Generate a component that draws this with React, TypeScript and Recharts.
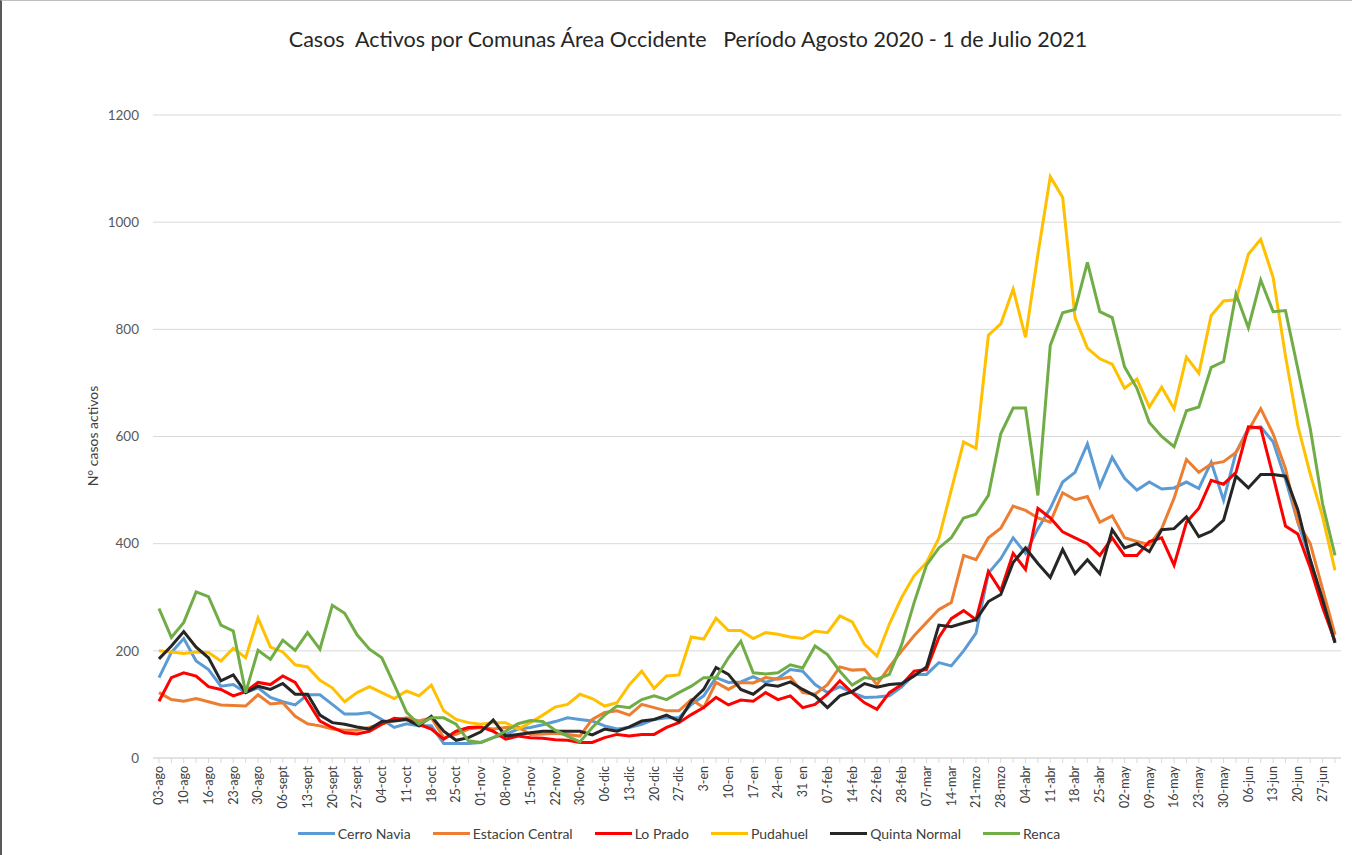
import { CartesianGrid, Line, LineChart, XAxis, YAxis } from 'recharts'

const dateLabels = [
  '03-ago', '10-ago', '16-ago', '23-ago', '30-ago', '06-sept', '13-sept', '20-sept', '27-sept', '04-oct',
  '11-oct', '18-oct', '25-oct', '01-nov', '08-nov', '15-nov', '22-nov', '30-nov', '06-dic', '13-dic',
  '20-dic', '27-dic', '3-en', '10-en', '17-en', '24-en', '31 en', '07-feb', '14-feb', '22-feb',
  '28-feb', '07-mar', '14-mar', '21-mzo', '28-mzo', '04-abr', '11-abr', '18-abr', '25-abr', '02-may',
  '09-may', '16-may', '23-may', '30-may', '06-jun', '13-jun', '20-jun', '27-jun',
]

const cerroNavia = [
  150, 197, 223, 181, 165, 134, 137, 122, 131, 113, 105, 99, 118, 118, 100, 82, 82,
  85, 72, 57, 64, 60, 60, 27, 27, 27, 29, 38, 44, 54, 57, 62, 68,
  75, 72, 69, 60, 54, 57, 63, 72, 75, 75, 100, 116, 150, 141, 142, 152,
  141, 149, 165, 162, 137, 122, 133, 122, 113, 114, 116, 133, 156, 156, 178,
  172, 200, 233, 345, 372, 411, 382, 428, 466, 515, 533, 586, 507, 561, 522, 500,
  515, 502, 504, 515, 503, 552, 481, 570, 615, 618, 590, 520, 440, 370, 290, 215,
]

const estacionCentral = [
  122, 109, 106, 111, 105, 99, 98, 97, 118, 101, 103, 78, 64, 60, 54, 52, 52,
  57, 64, 70, 75, 69, 75, 38, 44, 54, 57, 54, 57, 58, 44, 45, 46,
  44, 41, 72, 85, 88, 80, 100, 94, 88, 88, 109, 94, 141, 128, 141, 140,
  150, 147, 151, 122, 119, 137, 170, 164, 165, 137, 170, 200, 228, 253, 277,
  290, 378, 370, 411, 429, 470, 462, 448, 440, 495, 482, 488, 440, 452, 411, 404,
  398, 428, 485, 557, 533, 549, 553, 570, 611, 652, 605, 540, 440, 400, 315, 230,
]

const loPrado = [
  106, 150, 159, 153, 133, 128, 116, 124, 141, 137, 153, 141, 106, 69, 57, 47, 45,
  50, 63, 74, 72, 63, 54, 35, 50, 57, 58, 50, 35, 41, 38, 37, 34,
  33, 29, 29, 38, 44, 41, 44, 44, 57, 66, 81, 94, 113, 99, 108, 106,
  122, 109, 116, 94, 100, 119, 144, 122, 103, 91, 122, 137, 162, 165, 225,
  260, 275, 258, 348, 312, 382, 352, 466, 448, 422, 411, 400, 378, 411, 378, 378,
  404, 411, 360, 440, 466, 518, 511, 533, 618, 616, 526, 433, 418, 355, 281, 218,
]

const pudahuel = [
  200, 198, 195, 198, 197, 181, 205, 187, 261, 207, 198, 174, 170, 145, 131, 105, 122,
  133, 122, 111, 125, 116, 136, 88, 72, 66, 63, 66, 66, 54, 66, 80, 95,
  100, 119, 111, 97, 103, 137, 162, 130, 153, 155, 226, 222, 261, 238, 238, 223,
  234, 231, 226, 223, 237, 234, 265, 254, 212, 190, 250, 300, 340, 365, 410,
  500, 590, 578, 789, 810, 875, 785, 940, 1085, 1046, 822, 765, 745, 735, 690, 707,
  655, 692, 652, 748, 718, 826, 853, 855, 940, 968, 897, 750, 620, 530, 450, 350,
]

const quintaNormal = [
  185, 209, 236, 207, 187, 144, 155, 122, 134, 128, 139, 119, 119, 80, 66, 63, 58,
  54, 68, 69, 72, 60, 78, 50, 33, 38, 49, 71, 41, 44, 47, 50, 50,
  50, 50, 43, 54, 50, 58, 69, 72, 80, 69, 106, 128, 169, 156, 128, 119,
  137, 134, 142, 128, 116, 94, 116, 124, 139, 132, 137, 139, 153, 170, 248,
  245, 252, 258, 292, 305, 365, 392, 363, 337, 389, 344, 370, 344, 426, 392, 400,
  385, 426, 428, 450, 413, 423, 444, 526, 504, 529, 529, 526, 463, 370, 296, 215,
]

const renca = [
  279, 225, 253, 310, 301, 248, 237, 122, 201, 184, 220, 201, 234, 203, 285, 270, 230,
  203, 187, 137, 85, 63, 75, 75, 63, 32, 29, 38, 50, 64, 70, 68, 52,
  41, 30, 57, 80, 97, 94, 109, 116, 109, 122, 134, 150, 150, 187, 218, 159,
  157, 159, 174, 168, 209, 193, 162, 136, 150, 147, 156, 212, 290, 360, 392,
  411, 448, 455, 490, 605, 653, 653, 490, 770, 831, 837, 925, 833, 822, 730, 690,
  626, 600, 581, 648, 655, 729, 740, 866, 803, 892, 833, 835, 726, 615, 474, 378,
]

const yTicks = [0, 200, 400, 600, 800, 1000, 1200]

const series = [
  { key: 'cerroNavia', name: 'Cerro Navia', color: '#5b9bd5', values: cerroNavia },
  { key: 'estacionCentral', name: 'Estacion Central', color: '#ed7d31', values: estacionCentral },
  { key: 'loPrado', name: 'Lo Prado', color: '#ff0000', values: loPrado },
  { key: 'pudahuel', name: 'Pudahuel', color: '#ffc000', values: pudahuel },
  { key: 'quintaNormal', name: 'Quinta Normal', color: '#262626', values: quintaNormal },
  { key: 'renca', name: 'Renca', color: '#70ad47', values: renca },
]

const rows = cerroNavia.map((_, i) => {
  const row: Record<string, number> = { idx: i }
  series.forEach((s) => {
    row[s.key] = s.values[i]
  })
  return row
})

const FONT = 'Lato, "Open Sans", sans-serif'

function DateTick(props: any) {
  const { x, y, payload } = props
  const i = Number(payload.value)
  if (i % 2 !== 0) return <g />
  return (
    <text
      x={x}
      y={y}
      dy="0.35em"
      textAnchor="end"
      transform={`rotate(-90, ${x}, ${y})`}
      fontSize={12.5}
      fontFamily={FONT}
      fill="#404040"
    >
      {dateLabels[i / 2]}
    </text>
  )
}

export default function App() {
  return (
    <div
      style={{
        position: 'absolute',
        left: 0,
        top: 0,
        width: 1352,
        height: 855,
        background: '#fff',
        fontFamily: FONT,
        boxSizing: 'border-box',
        borderLeft: '2px solid #595959',
        borderTop: '1px solid #bfbfbf',
      }}
    >
      <div
        style={{
          position: 'absolute',
          top: 25,
          left: 0,
          width: 1352,
          textAlign: 'center',
          whiteSpace: 'pre',
          fontSize: 21.5,
          color: '#262626',
          marginLeft: 10,
        }}
      >
        {'Casos  Activos por Comunas Área Occidente   Período Agosto 2020 - 1 de Julio 2021'}
      </div>
      <div
        style={{
          position: 'absolute',
          left: 90,
          top: 435,
          transform: 'translate(-50%, -50%) rotate(-90deg)',
          whiteSpace: 'nowrap',
          fontSize: 14,
          color: '#404040',
        }}
      >
        N° casos activos
      </div>
      <LineChart
        width={1352}
        height={855}
        data={rows}
        margin={{ top: 114, right: 13, bottom: 38, left: 91 }}
        style={{ position: 'absolute', left: 0, top: 0 }}
      >
        <CartesianGrid vertical={false} stroke="#d9d9d9" />
        <XAxis
          dataKey="idx"
          type="category"
          interval={0}
          height={60}
          padding={{ left: 6, right: 6 }}
          stroke="#d9d9d9"
          tickSize={5}
          tickMargin={3}
          tick={<DateTick />}
        />
        <YAxis
          domain={[0, 1200]}
          ticks={yTicks}
          width={60}
          axisLine={false}
          tickLine={false}
          tickSize={0}
          tickMargin={14}
          tick={{ fontSize: 13.5, fill: '#595959', fontFamily: FONT }}
        />
        {series.map((s) => (
          <Line
            key={s.key}
            dataKey={s.key}
            name={s.name}
            type="linear"
            stroke={s.color}
            strokeWidth={3}
            dot={false}
            activeDot={false}
            isAnimationActive={false}
          />
        ))}
      </LineChart>
      <div
        style={{
          position: 'absolute',
          top: 824,
          left: 0,
          width: 1352,
          display: 'flex',
          justifyContent: 'center',
          paddingLeft: 24,
          boxSizing: 'border-box',
          fontSize: 14,
          color: '#404040',
        }}
      >
        {series.map((s) => (
          <div key={s.key} style={{ display: 'flex', alignItems: 'center', marginRight: 22 }}>
            <span style={{ display: 'inline-block', width: 37, height: 3, background: s.color, marginRight: 3 }} />
            <span>{s.name}</span>
          </div>
        ))}
      </div>
    </div>
  )
}
